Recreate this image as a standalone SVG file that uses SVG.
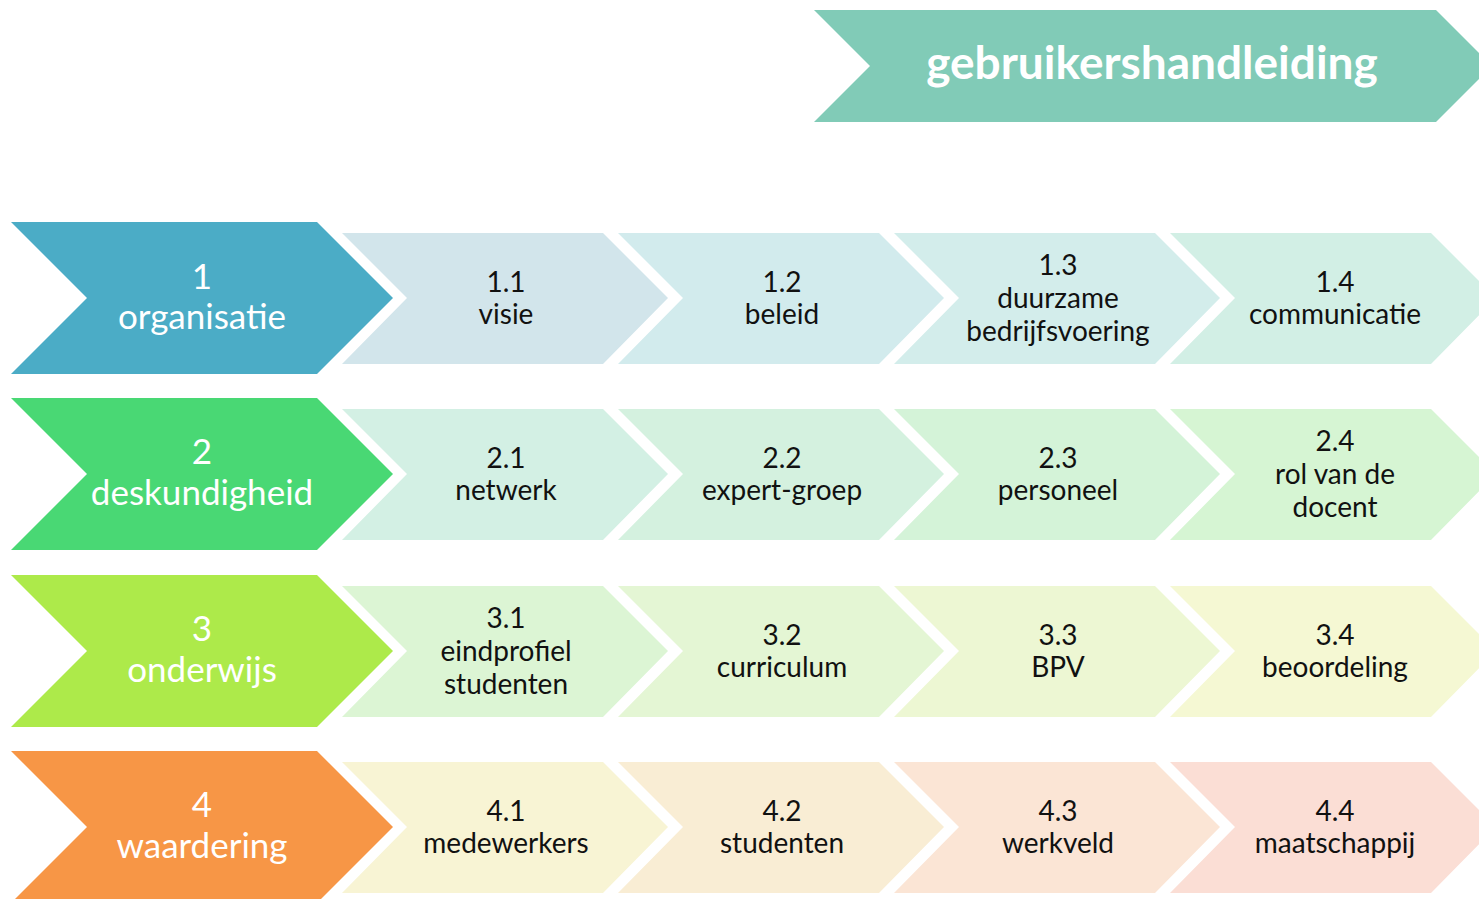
<svg xmlns="http://www.w3.org/2000/svg" width="1479" height="899" viewBox="0 0 1479 899">
<style>
text { font-family: Lato, "Open Sans", "Liberation Sans", sans-serif; text-anchor: middle; }
.big { fill: #ffffff; font-size: 35px; }
.sm { fill: #111111; font-size: 28px; }
.hd { fill: #ffffff; font-size: 46px; font-weight: bold; }
</style>
<defs>
<polygon id="bigc" points="11,0 317,0 393,76 317,152 11,152 87,76"/>
<polygon id="smc" points="0,11 261,11 326,76 261,142 0,142 65,76"/>
</defs>
<rect width="1479" height="899" fill="#ffffff"/>
<g id="header">
<polygon points="814,10 1436,10 1492,66 1436,122 814,122 870,66" fill="#81CBB7"/>
<text class="hd" x="1152" y="79">gebruikershandleiding</text>
</g>
<g id="n1">
<use href="#bigc" y="222" fill="#4BACC6"/>
<text class="big" x="202" y="289">1</text>
<text class="big" x="202" y="329">organisatie</text>
</g>
<g id="n1-1"><use href="#smc" x="342" y="222" fill="#D2E5EB"/><text class="sm" x="506" y="292">1.1</text><text class="sm" x="506" y="324">visie</text></g>
<g id="n1-2"><use href="#smc" x="618" y="222" fill="#D2EBED"/><text class="sm" x="782" y="292">1.2</text><text class="sm" x="782" y="324">beleid</text></g>
<g id="n1-3"><use href="#smc" x="894" y="222" fill="#D3EDEB"/><text class="sm" x="1058" y="275">1.3</text><text class="sm" x="1058" y="308">duurzame</text><text class="sm" x="1058" y="341">bedrijfsvoering</text></g>
<g id="n1-4"><use href="#smc" x="1170" y="222" fill="#D2EFE5"/><text class="sm" x="1335" y="292">1.4</text><text class="sm" x="1335" y="324">communicatie</text></g>
<g id="n2">
<use href="#bigc" y="398" fill="#49D874"/>
<text class="big" x="202" y="464">2</text>
<text class="big" x="202" y="505">deskundigheid</text>
</g>
<g id="n2-1"><use href="#smc" x="342" y="398" fill="#D3F0E4"/><text class="sm" x="506" y="468">2.1</text><text class="sm" x="506" y="500">netwerk</text></g>
<g id="n2-2"><use href="#smc" x="618" y="398" fill="#D4F1DF"/><text class="sm" x="782" y="468">2.2</text><text class="sm" x="782" y="500">expert-groep</text></g>
<g id="n2-3"><use href="#smc" x="894" y="398" fill="#D4F3D8"/><text class="sm" x="1058" y="468">2.3</text><text class="sm" x="1058" y="500">personeel</text></g>
<g id="n2-4"><use href="#smc" x="1170" y="398" fill="#D6F5D3"/><text class="sm" x="1335" y="451">2.4</text><text class="sm" x="1335" y="484">rol van de</text><text class="sm" x="1335" y="517">docent</text></g>
<g id="n3">
<use href="#bigc" y="575" fill="#ADEA4A"/>
<text class="big" x="202" y="641">3</text>
<text class="big" x="202" y="682">onderwijs</text>
</g>
<g id="n3-1"><use href="#smc" x="342" y="575" fill="#DCF5D4"/><text class="sm" x="506" y="628">3.1</text><text class="sm" x="506" y="661">eindprofiel</text><text class="sm" x="506" y="694">studenten</text></g>
<g id="n3-2"><use href="#smc" x="618" y="575" fill="#E4F6D4"/><text class="sm" x="782" y="645">3.2</text><text class="sm" x="782" y="677">curriculum</text></g>
<g id="n3-3"><use href="#smc" x="894" y="575" fill="#EDF7D3"/><text class="sm" x="1058" y="645">3.3</text><text class="sm" x="1058" y="677">BPV</text></g>
<g id="n3-4"><use href="#smc" x="1170" y="575" fill="#F5F8D3"/><text class="sm" x="1335" y="645">3.4</text><text class="sm" x="1335" y="677">beoordeling</text></g>
<g id="n4">
<use href="#bigc" y="751" fill="#F79646"/>
<text class="big" x="202" y="817">4</text>
<text class="big" x="202" y="858">waardering</text>
</g>
<g id="n4-1"><use href="#smc" x="342" y="751" fill="#F8F4D4"/><text class="sm" x="506" y="821">4.1</text><text class="sm" x="506" y="853">medewerkers</text></g>
<g id="n4-2"><use href="#smc" x="618" y="751" fill="#F9EDD4"/><text class="sm" x="782" y="821">4.2</text><text class="sm" x="782" y="853">studenten</text></g>
<g id="n4-3"><use href="#smc" x="894" y="751" fill="#FBE5D5"/><text class="sm" x="1058" y="821">4.3</text><text class="sm" x="1058" y="853">werkveld</text></g>
<g id="n4-4"><use href="#smc" x="1170" y="751" fill="#FBDED5"/><text class="sm" x="1335" y="821">4.4</text><text class="sm" x="1335" y="853">maatschappij</text></g>
</svg>
